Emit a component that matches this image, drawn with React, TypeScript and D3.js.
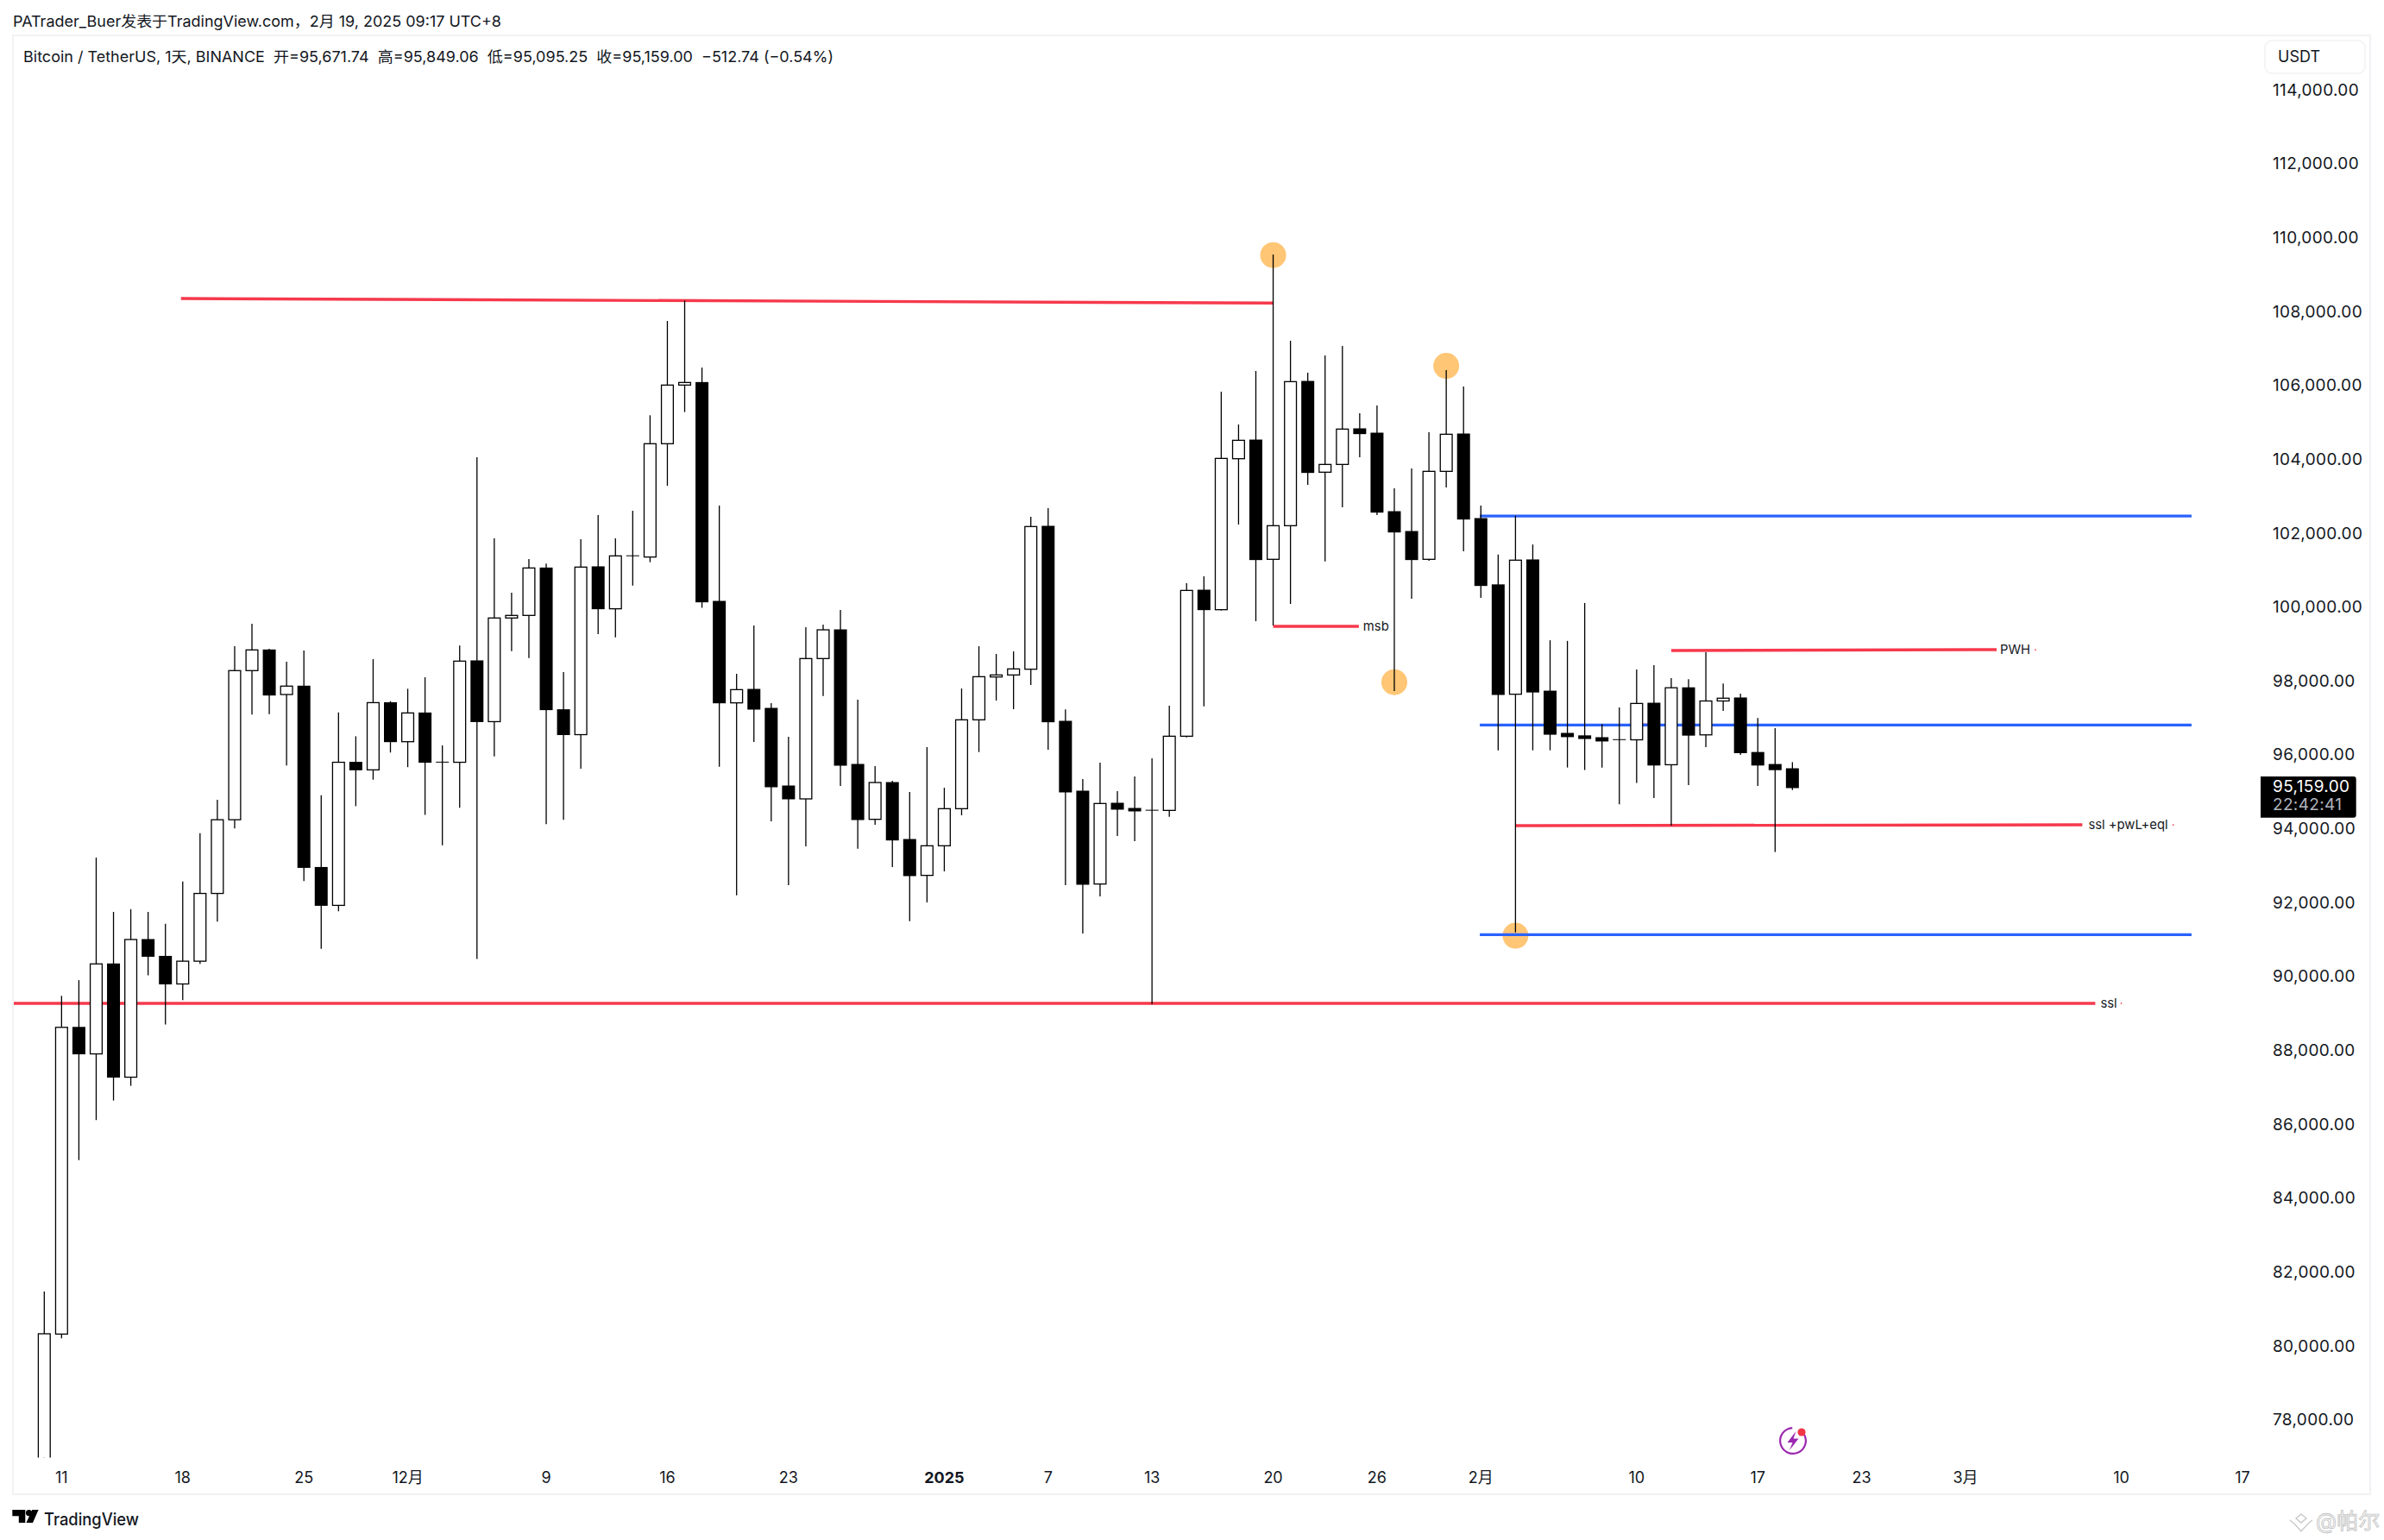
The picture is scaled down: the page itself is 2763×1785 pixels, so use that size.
import React from "react";
import * as d3 from "d3";

const opens = [76677,80370,88672,87953,90389,87323,91049,90594,89846,90462,92296,94291,98327,98887,97680,97907,93000,91973,95846,95641,97460,96403,97181,95846,95846,98592,96946,99751,99821,101105,97269,96594,101137,100000,101432,101401,104468,106055,106125,100202,97454,97820,97306,95205,94855,98653,99431,95789,94302,95298,93757,92785,93586,94590,96995,98155,98209,98365,102234,96956,95065,92551,94738,94598,94543,94543,96551,100505,99976,104062,104568,101339,102249,106156,103697,103907,104872,104755,102630,102093,101339,103720,104732,102443,100649,97688,101324,97772,96629,96563,96513,96454,96454,97446,95779,97863,96588,97505,97588,96112,95787,95671.74];
const closes = [80378,88672,87953,90389,87323,91049,90594,89846,90462,92296,94291,98327,98887,97665,97907,93000,91973,95846,95641,97460,96403,97181,95846,95850,98584,96946,99751,99821,101105,97269,96594,101129,100000,101432,101435,104468,106055,106125,100187,97454,97812,97283,95182,94855,98653,99431,95765,94294,95298,93742,92777,93586,94590,96995,98162,98209,98373,102226,96941,95042,92543,94730,94575,94528,94548,96551,100497,99976,104070,104560,101331,102249,106148,103689,103907,104864,104740,102615,102078,101331,103720,104724,102428,100630,97680,101316,97747,96604,96538,96488,96421,96459,97438,95770,97863,96579,97505,97580,96104,95770,95645,95159];
const highs = [81522,89523,89949,93264,91797,91870,91797,91474,92618,93924,94834,98988,99595,98918,98568,98872,94951,97196,96550,98638,97500,97836,98148,96300,99004,104102,101907,100436,101346,101222,98288,101884,102537,101907,102654,105238,107791,108343,106530,102794,98241,99549,97447,96536,99501,99571,99968,97540,95742,95345,95042,96256,95158,97843,98987,98777,98847,102491,102724,97275,95392,95835,95065,95462,95952,97376,100692,100879,105876,104989,106436,109588,107253,106389,106856,107113,105292,105502,103261,103798,104778,106459,106016,102794,101466,102517,101741,99148,99131,100157,96879,97330,98355,98472,98122,98097,98822,97980,97705,97046,96771,95849];
const lows = [76000,80252,85078,86164,86692,87088,90081,88746,89406,90389,91533,94056,97137,97151,95758,92633,90799,91812,94658,95376,96110,95714,94423,93601,94614,90521,96007,98856,98669,94173,94291,95670,99315,99230,100630,101261,103331,105324,100024,95726,92247,96396,94248,92520,93570,97641,95205,93508,94154,93010,91547,92053,92893,94411,96123,97516,97283,97937,96186,92520,91212,92216,93851,93711,89300,94372,96520,97361,99953,102280,99665,99548,100132,103354,101284,102747,104101,102537,97773,100272,101300,103284,101556,100296,96170,91242,96170,96170,95704,95637,95704,94711,95287,94878,94128,95228,96254,97238,96046,95203,93419,95095];

const yTicks = d3.range(78000, 114001, 2000);
const xTickIndex = [1,8,15,21,29,36,43,52,58,64,71,77,83,92,99,105,111,120,127];
const xTickLabel = ["11","18","25","12月","9","16","23","2025","7","13","20","26","2月","10","17","23","3月","10","17"];

// trend lines: start bar, end bar, start price, end price
const redLines = [
  { a: 7.9, b: 71, p: 108398, q: 108274 },
  { a: -1.8, b: 118.5, p: 89321, q: 89321 },
  { a: 71, b: 75.95, p: 99525, q: 99525 },
  { a: 94, b: 112.8, p: 98871, q: 98895 },
  { a: 85, b: 117.75, p: 94131, q: 94154 },
  { a: 92, b: 93, p: 96856, q: 96856 },
];
const blueLevels = [102509, 96856, 91182];
const blueStart = 82.94;
const blueEnd = 124.06;
const markerBars = [71, 81, 78, 85];
const markerPrices = [109572, 106576, 98014, 91151];
const noteBars = [76.2, 113, 118.1, 118.8];
const notePrices = [99525, 98890, 94150, 89321];
const noteTexts = ["msb", "PWH", "ssl +pwL+eql", "ssl"];
const dotBars = [115.04, 123, 120];
const dotPrices = [98890, 94150, 89321];

const W = 2763, H = 1785;
const FONT = 'Inter, "Noto Sans CJK SC", sans-serif';
const RED = "#f6394c";
const BLUE = "#2962ff";
const INK = "#131722";

const x = d3.scaleLinear().domain([0, 101]).range([51.3, 51.3 + 20.06 * 101]);
const y = d3.scaleLinear().domain([78000, 114000]).range([1647.8, 106.1]);

const ringArc = d3.arc()({ innerRadius: 13.8, outerRadius: 16, startAngle: 0.95, endAngle: 2 * Math.PI - 0.05 } as any) as string;

export default function App() {
  return (
    <svg width={W} height={H} viewBox={`0 0 ${W} ${H}`} style={{ position: "absolute", left: 0, top: 0, display: "block", background: "#fff" }} fontFamily={FONT}>
      <defs>
        <clipPath id="pane"><rect x={16} y={42} width={2604} height={1647.5} /></clipPath>
      </defs>
      <text x={15} y={24} fontSize={17.5} dominantBaseline="central" fill={INK} textLength={566} lengthAdjust="spacingAndGlyphs">PATrader_Buer发表于TradingView.com，2月 19, 2025 09:17 UTC+8</text>
      <rect x={15} y={41} width={2732} height={1691} fill="none" stroke="#f1f2f4" strokeWidth={2} />

      <g clipPath="url(#pane)">
        {redLines.map((l, i) => (
          <line key={i} x1={x(l.a)} x2={x(l.b)} y1={y(l.p)} y2={y(l.q)} stroke={RED} strokeWidth={3.4} />
        ))}
        {markerBars.map((b, i) => (
          <circle key={b} cx={x(b)} cy={y(markerPrices[i])} r={15} fill="#ffc675" />
        ))}
        {blueLevels.map((p) => (
          <line key={p} x1={x(blueStart)} x2={x(blueEnd)} y1={y(p)} y2={y(p)} stroke={BLUE} strokeWidth={3.2} />
        ))}
        {opens.map((o, i) => {
          const c = closes[i];
          const top = y(Math.max(o, c));
          const bot = y(Math.min(o, c));
          const cx = x(i);
          const up = c >= o;
          const h = bot - top;
          return (
            <g key={i}>
              <line x1={cx} x2={cx} y1={y(highs[i])} y2={y(lows[i])} stroke="#000" strokeWidth={1.3} />
              {h < 1 ? (
                <rect x={cx - 7.5} y={top - 0.5} width={15} height={1} fill="#000" />
              ) : up ? (
                <rect x={cx - 6.9} y={top} width={13.8} height={h} fill="#fff" stroke="#000" strokeWidth={1.3} />
              ) : (
                <rect x={cx - 7.5} y={top - 0.5} width={15} height={h + 1} fill="#000" />
              )}
            </g>
          );
        })}
      </g>

      {noteTexts.map((t, i) => (
        <text key={t} x={x(noteBars[i])} y={y(notePrices[i])} fontSize={14.8} dominantBaseline="central" fill={INK}>{t}</text>
      ))}
      {dotBars.map((b, i) => (
        <rect key={b} x={x(b) - 0.7} y={y(dotPrices[i]) - 0.8} width={1.4} height={1.6} fill={RED} />
      ))}

      <text x={27} y={65.4} fontSize={17.5} dominantBaseline="central" fill={INK} textLength={939} lengthAdjust="spacingAndGlyphs" xmlSpace="preserve">Bitcoin / TetherUS, 1天, BINANCE  开=95,671.74  高=95,849.06  低=95,095.25  收=95,159.00  −512.74 (−0.54%)</text>

      <rect x={2625} y={47} width={116} height={38} rx={8} fill="#fff" stroke="#f1f2f4" strokeWidth={1.5} />
      <text x={2640} y={65.7} fontSize={18} dominantBaseline="central" fill={INK}>USDT</text>

      {yTicks.map((v) => (
        <text key={v} x={2634} y={y(v) - 2} fontSize={19} letterSpacing={0.35} dominantBaseline="central" fill={INK}>{d3.format(",.2f")(v)}</text>
      ))}
      <path d="M2620 900H2727.7a3 3 0 0 1 3 3V944.7a3 3 0 0 1 -3 3H2620Z" fill="#000" />
      <text x={2634} y={911.3} fontSize={19} letterSpacing={0.35} dominantBaseline="central" fill="#fff">{d3.format(",.2f")(closes[closes.length - 1])}</text>
      <text x={2634} y={932.3} fontSize={19} letterSpacing={0.35} dominantBaseline="central" fill="#b2b5be">22:42:41</text>

      {xTickIndex.map((b, i) => (
        <text key={i} x={x(b)} y={1712} fontSize={18} textAnchor="middle" dominantBaseline="central" fill={INK} fontWeight={xTickLabel[i] === "2025" ? 700 : 400}>{xTickLabel[i]}</text>
      ))}

      <g transform="translate(2078 1670)">
        <path d={ringArc} fill="#9c27b0" />
        <path d="M3.5 -11 L-6.5 2 L-0.5 2 L-4 11 L6.5 -2.5 L0.5 -2.5 Z" fill="#9c27b0" />
        <circle cx={10} cy={-10} r={4.6} fill="#f23645" />
      </g>

      <g fill="#000">
        <path d="M14.3 1750H29.3V1765H21.8V1757.3H14.3Z" />
        <circle cx={33.5} cy={1753.6} r={3.6} />
        <path d="M37.2 1750H44.6L38 1765H30.5Z" />
      </g>
      <text x={51} y={1760.5} fontSize={20} fontWeight={500} dominantBaseline="central" fill={INK} textLength={110} lengthAdjust="spacingAndGlyphs">TradingView</text>

      <g fill="none" stroke="#c9c9c9" strokeWidth={1.4}>
        <path d="M2667 1755l6 5-6 5-6-5zM2654 1762l5 4 8 9 8-9 5-4" />
      </g>
      <text x={2684} y={1763} fontSize={25} dominantBaseline="central" fill="#fff" stroke="#c4c4c4" strokeWidth={0.9}>@帕尔</text>
    </svg>
  );
}
